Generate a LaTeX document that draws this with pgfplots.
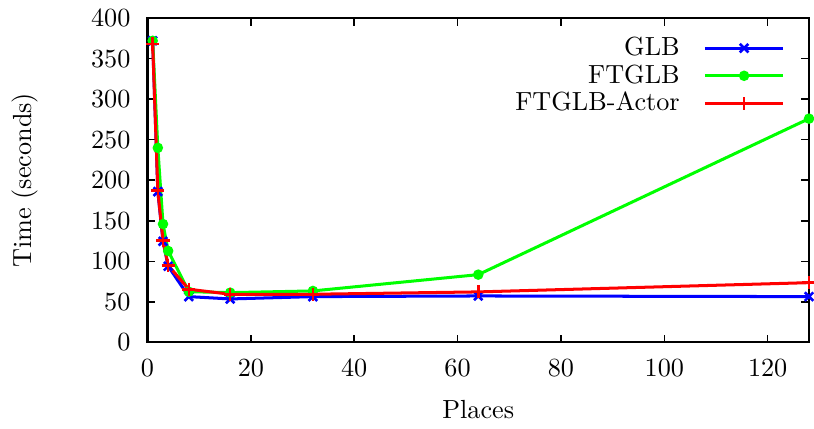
\documentclass[border=0pt]{standalone}
\usepackage{pgfplots}
\pgfplotsset{compat=1.18}

\begin{document}
\begin{tikzpicture}
\begin{axis}[
    scale only axis, width=252.5pt, height=123.8pt,
    xmin=0, xmax=128, ymin=0, ymax=400,
    xtick={0,20,40,60,80,100,120},
    ytick={0,50,100,150,200,250,300,350,400},
    major tick length=3pt, tick style={black, line width=0.6pt},
    axis line style={line width=0.8pt},
    xticklabel style={yshift=-3pt},
    yticklabel style={xshift=-3pt},
    xlabel={Places}, ylabel={Time (seconds)},
    every axis x label/.style={at={(axis description cs:0.5,0)}, yshift=-25.8pt, anchor=center},
    every axis y label/.style={at={(axis description cs:0,0.5)}, xshift=-46.8pt, rotate=90, anchor=center},
    legend plot pos=right,
    legend cell align=right,
    legend style={draw=none, fill=none, at={(axis description cs:1,1)}, anchor=north east,
        xshift=-6pt, yshift=-3pt, row sep=-2pt, column sep=7pt,
        font=\normalsize},
    legend image code/.code={%
        \draw[mark repeat=2,mark phase=2,#1] plot coordinates {(0pt,0pt) (15pt,0pt) (30pt,0pt)};},
    every axis plot/.append style={line width=1.15pt},
]
\addplot[blue, mark=x, mark size=2.3pt, mark options={line width=1pt}] coordinates {
    (1,372) (2,186) (3,124.7) (4,94) (8,56.5) (16,53.6) (32,56.5) (64,57.3) (128,56.5)
};
\addlegendentry{GLB}
\addplot[green, mark=*, mark size=1.4pt] coordinates {
    (1,372) (2,240) (3,146) (4,112.8) (8,62.6) (16,61.4) (32,63.5) (64,83.6) (128,276)
};
\addlegendentry{FTGLB}
\addplot[red, mark=+, mark size=2.5pt, mark options={line width=1pt}] coordinates {
    (1,368) (2,187) (3,126) (4,95) (8,65.6) (16,59.4) (32,59.4) (64,62.3) (128,73.7)
};
\addlegendentry{FTGLB-Actor}
\end{axis}
\pgfresetboundingbox
\path (current axis.south west) ++(-56.3pt,-33pt) coordinate (bbsw);
\path (current axis.north east) ++(1.9pt,6.9pt) coordinate (bbne);
\useasboundingbox (bbsw) rectangle (bbne);
\end{tikzpicture}
\end{document}
